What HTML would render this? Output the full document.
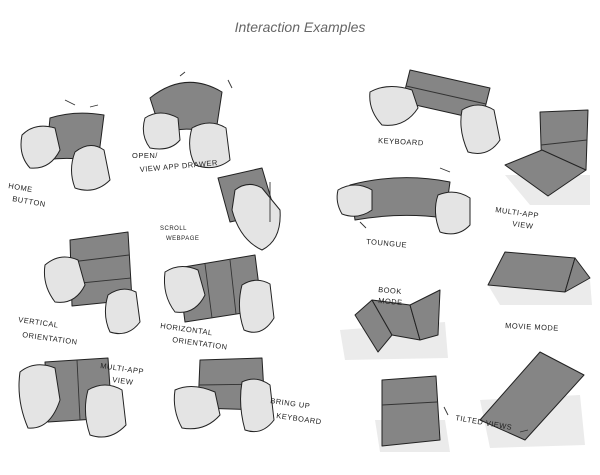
<!DOCTYPE html>
<html><head><meta charset="utf-8"><style>
html,body{margin:0;padding:0;background:#fff;width:600px;height:475px;overflow:hidden}
svg text{font-family:"Liberation Sans",sans-serif;font-size:7.5px;fill:#222;letter-spacing:0.5px}
.s{fill:#858585;stroke:#222;stroke-width:1;stroke-linejoin:round}
.h{fill:#e4e4e4;stroke:#222;stroke-width:1;stroke-linejoin:round}
.l{stroke:#333;stroke-width:0.9;fill:none}
.sh{fill:#ebebeb}
</style></head><body>
<svg width="600" height="475" viewBox="0 0 600 475" xmlns="http://www.w3.org/2000/svg">
<text x="300" y="32" text-anchor="middle" style="font-size:14px;font-style:italic;fill:#666;letter-spacing:0">Interaction Examples</text>

<path class="s" d="M50 118 Q75 110 104 115 L98 162 Q72 156 46 160 Z"/>
<path class="h" d="M22 135 Q35 122 55 128 L60 150 Q50 170 30 168 Q18 155 22 135Z"/>
<path class="h" d="M75 152 Q90 140 104 150 L110 180 Q95 195 75 188 Q68 170 75 152Z"/>
<path class="l" d="M65 100 l10 5 M98 105 l-8 2"/>
<text x="8" y="188" transform="rotate(10 8 188)">HOME</text>
<text x="12" y="201" transform="rotate(10 12 201)">BUTTON</text>

<path class="s" d="M150 98 Q185 70 222 92 L215 138 Q190 122 162 135 Z"/>
<path class="h" d="M145 118 Q160 108 178 118 L180 140 Q170 152 150 148 Q140 135 145 118Z"/>
<path class="h" d="M192 128 Q210 118 226 128 L230 160 Q215 172 195 165 Q186 148 192 128Z"/>
<path class="l" d="M185 72 l-5 4 M228 80 l4 8"/>
<text x="132" y="158">OPEN/</text>
<text x="140" y="172" transform="rotate(-5 140 172)">VIEW APP DRAWER</text>

<path class="s" d="M218 178 L262 168 L275 212 L230 222 Z"/>
<path class="h" d="M235 190 Q248 180 262 188 L280 210 Q282 240 262 250 Q240 240 232 210Z"/>
<path class="l" d="M270 182 l0 40"/>
<text x="160" y="230" style="font-size:6px">SCROLL</text>
<text x="166" y="240" style="font-size:6px">WEBPAGE</text>

<path class="s" d="M70 240 L128 232 L132 300 L72 306 Z"/>
<path class="l" d="M71 262 L129 255 M71 284 L131 278"/>
<path class="h" d="M45 265 Q60 252 78 260 L85 285 Q75 305 55 302 Q42 285 45 265Z"/>
<path class="h" d="M108 295 Q122 285 136 292 L140 322 Q128 338 110 332 Q102 315 108 295Z"/>
<text x="18" y="322" transform="rotate(8 18 322)">VERTICAL</text>
<text x="22" y="337" transform="rotate(8 22 337)">ORIENTATION</text>

<path class="s" d="M178 268 L255 255 L262 310 L185 322 Z"/>
<path class="l" d="M205 264 L212 318 M230 260 L236 314"/>
<path class="h" d="M165 272 Q180 262 198 270 L205 295 Q195 315 175 312 Q162 295 165 272Z"/>
<path class="h" d="M242 285 Q256 276 270 284 L274 318 Q262 338 244 330 Q236 308 242 285Z"/>
<text x="160" y="328" transform="rotate(8 160 328)">HORIZONTAL</text>
<text x="172" y="342" transform="rotate(8 172 342)">ORIENTATION</text>

<path class="s" d="M45 362 L108 358 L112 418 L48 422 Z"/>
<path class="l" d="M77 360 L80 420"/>
<path class="h" d="M20 372 Q35 360 55 368 L60 400 Q50 430 28 428 Q16 400 20 372Z"/>
<path class="h" d="M88 390 Q105 380 122 390 L126 425 Q110 442 90 435 Q82 412 88 390Z"/>
<text x="100" y="368" transform="rotate(8 100 368)">MULTI-APP</text>
<text x="112" y="382" transform="rotate(8 112 382)">VIEW</text>

<path class="s" d="M200 360 L262 358 L265 410 L198 408 Z"/>
<path class="l" d="M199 385 L264 384"/>
<path class="h" d="M175 390 Q192 382 215 392 L220 415 Q205 432 182 428 Q172 410 175 390Z"/>
<path class="h" d="M242 382 Q256 375 270 385 L274 420 Q262 436 245 430 Q238 405 242 382Z"/>
<text x="270" y="403" transform="rotate(8 270 403)">BRING UP</text>
<text x="276" y="418" transform="rotate(8 276 418)">KEYBOARD</text>

<path class="s" d="M410 70 L490 88 L482 120 L402 102 Z"/>
<path class="l" d="M406 86 L486 104"/>
<path class="h" d="M370 92 Q388 82 412 90 L418 108 Q405 128 382 125 Q368 110 370 92Z"/>
<path class="h" d="M462 110 Q478 100 494 110 L500 140 Q488 158 468 152 Q458 130 462 110Z"/>
<text x="378" y="143" transform="rotate(3 378 143)">KEYBOARD</text>

<path class="sh" d="M505 175 L590 175 L590 205 L530 205 Z"/>
<path class="s" d="M540 112 L588 110 L586 170 L542 178 Z"/>
<path class="s" d="M505 165 L542 150 L586 170 L548 196 Z"/>
<path class="l" d="M541 145 L587 140"/>
<text x="495" y="212" transform="rotate(8 495 212)">MULTI-APP</text>
<text x="512" y="226" transform="rotate(8 512 226)">VIEW</text>

<path class="s" d="M350 185 Q400 172 450 182 L445 218 Q400 212 355 220 Z"/>
<path class="h" d="M338 190 Q355 180 372 190 L372 210 Q358 220 342 214 Q335 202 338 190Z"/>
<path class="h" d="M438 195 Q455 188 470 198 L470 225 Q458 238 440 232 Q432 212 438 195Z"/>
<path class="l" d="M440 168 l10 4 M360 222 l6 6"/>
<text x="366" y="244" transform="rotate(5 366 244)">TOUNGUE</text>

<path class="sh" d="M340 330 L445 322 L448 358 L345 360 Z"/>
<path class="s" d="M355 315 L372 300 L392 335 L378 352 Z"/>
<path class="s" d="M372 300 L410 305 L420 340 L392 335 Z"/>
<path class="s" d="M410 305 L440 290 L438 335 L420 340 Z"/>
<text x="378" y="292" transform="rotate(5 378 292)">BOOK</text>
<text x="378" y="303" transform="rotate(5 378 303)">MODE</text>

<path class="sh" d="M488 285 L590 280 L592 305 L500 305 Z"/>
<path class="s" d="M488 285 L505 252 L575 258 L565 292 Z"/>
<path class="s" d="M575 258 L590 278 L565 292 Z"/>
<text x="505" y="328" transform="rotate(3 505 328)">MOVIE MODE</text>

<path class="sh" d="M375 420 L445 420 L450 452 L380 452 Z"/>
<path class="s" d="M382 380 L436 376 L440 440 L382 446 Z"/>
<path class="l" d="M382 405 L437 402"/>
<path class="sh" d="M480 400 L580 395 L585 445 L490 448 Z"/>
<path class="s" d="M480 420 L540 352 L584 375 L525 440 Z"/>
<text x="455" y="420" transform="rotate(10 455 420)">TILTED VIEWS</text>
<path class="l" d="M448 415 l-4 -8 M520 432 l8 -2"/>
</svg>
</body></html>
